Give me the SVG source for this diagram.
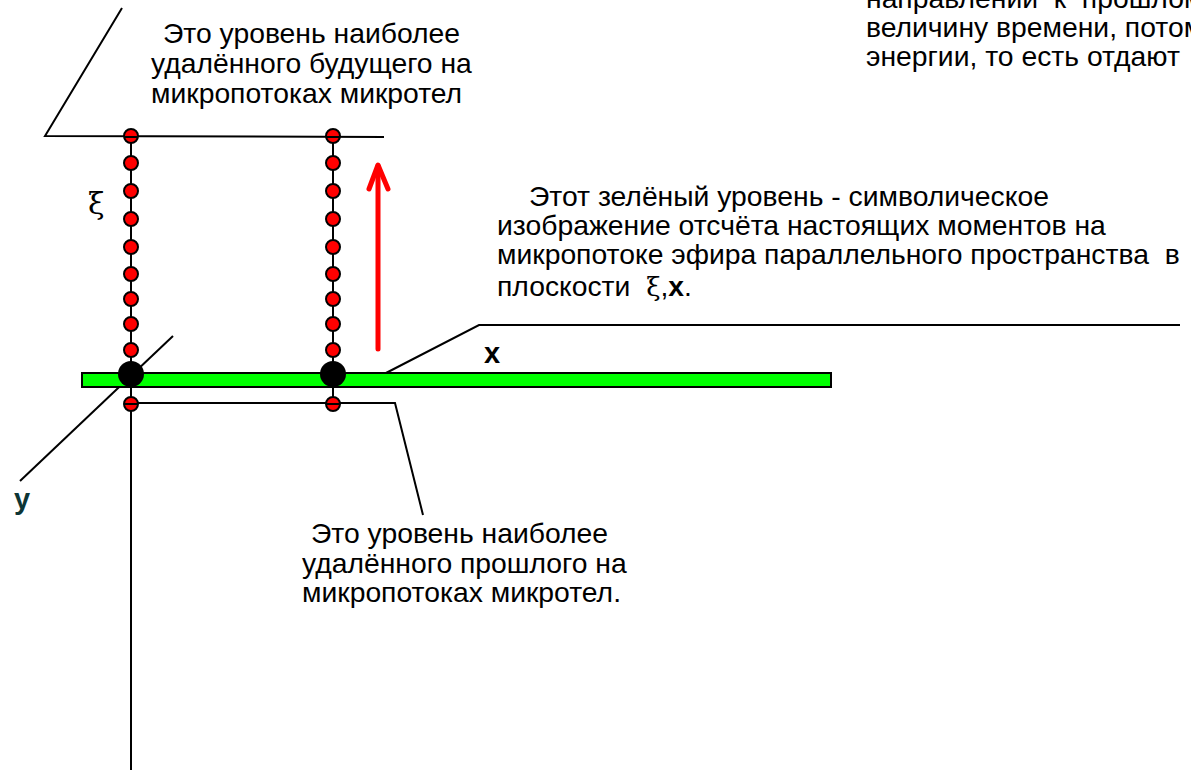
<svg xmlns="http://www.w3.org/2000/svg" width="1191" height="771" viewBox="0 0 1191 771">
  <style>
    .txt { font-family: "Liberation Sans", Arial, sans-serif; font-size: 28.3px; fill: #000; }
    .ln { stroke: #000; stroke-width: 2; fill: none; }
    .bead { fill: #ff0000; stroke: #000; stroke-width: 2; }
    .knot { fill: #000; }
    .sym { font-family: "DejaVu Serif", "Liberation Serif", serif; font-size: 30px; fill: #000; }
    .axis { font-family: "Liberation Sans", Arial, sans-serif; font-weight: bold; font-size: 29px; }
  </style>
  <defs>
    <circle id="bead" r="7" class="bead"/>
  </defs>
  <rect width="1191" height="771" fill="#fff"/>

  <!-- connectors and axes -->
  <g id="connectors">
    <!-- future level with leader line -->
    <polyline class="ln" points="122,8 45,136 384,137"/>
    <!-- past level with leader line -->
    <polyline class="ln" points="131,403 395,403 423,515"/>
    <!-- leader to the green level -->
    <polyline class="ln" points="386,373 479,325 1180,325"/>
    <!-- y axis -->
    <line class="ln" x1="20" y1="481" x2="173" y2="336"/>
    <!-- vertical axis below -->
    <line class="ln" x1="131" y1="403" x2="131" y2="770"/>
    <!-- chain strings -->
    <line class="ln" x1="131" y1="136" x2="131" y2="404"/>
    <line class="ln" x1="333" y1="136" x2="333" y2="404"/>
    <!-- time direction arrow -->
    <g stroke="#ff0000" stroke-width="5" stroke-linecap="round" stroke-linejoin="round" fill="none">
      <line x1="378" y1="349" x2="378" y2="166"/>
      <polyline points="369,189 378,165 388,189"/>
    </g>
  </g>

  <!-- green level of present moments -->
  <g id="present-level">
    <rect x="82" y="373" width="749" height="14" fill="#00ff00" stroke="#000" stroke-width="2"/>
  </g>

  <!-- left chain of micro-bodies -->
  <g id="chain-left">
    <use href="#bead" x="131" y="136"/>
    <use href="#bead" x="131" y="163"/>
    <use href="#bead" x="131" y="191"/>
    <use href="#bead" x="131" y="219"/>
    <use href="#bead" x="131" y="247"/>
    <use href="#bead" x="131" y="274"/>
    <use href="#bead" x="131" y="299"/>
    <use href="#bead" x="131" y="324"/>
    <use href="#bead" x="131" y="350"/>
    <circle class="knot" cx="131" cy="374" r="13"/>
    <use href="#bead" x="131" y="404"/>
    <line class="ln" x1="124" y1="404" x2="138" y2="404"/>
  </g>

  <!-- right chain of micro-bodies -->
  <g id="chain-right">
    <use href="#bead" x="333" y="136"/>
    <use href="#bead" x="333" y="163"/>
    <use href="#bead" x="333" y="191"/>
    <use href="#bead" x="333" y="219"/>
    <use href="#bead" x="333" y="247"/>
    <use href="#bead" x="333" y="274"/>
    <use href="#bead" x="333" y="299"/>
    <use href="#bead" x="333" y="324"/>
    <use href="#bead" x="333" y="350"/>
    <circle class="knot" cx="333" cy="374" r="13"/>
    <use href="#bead" x="333" y="404"/>
    <line class="ln" x1="326" y1="404" x2="340" y2="404"/>
  </g>

  <!-- horizontal strokes through top beads -->
  <g id="future-marks">
    <line class="ln" x1="124" y1="137" x2="138" y2="137"/>
    <line class="ln" x1="326" y1="137" x2="340" y2="137"/>
  </g>

  <!-- axis labels -->
  <g id="label-xi"><text class="sym" x="88" y="214">ξ</text></g>
  <g id="label-x"><text class="axis" x="484" y="363" fill="#000">x</text></g>
  <g id="label-y"><text class="axis" x="14" y="509" fill="#0d3535">y</text></g>

  <!-- captions -->
  <g id="note-future">
    <text class="txt" x="163" y="43">Это уровень наиболее</text>
    <text class="txt" x="151" y="73">удалённого будущего на</text>
    <text class="txt" x="151" y="103">микропотоках микротел</text>
  </g>
  <g id="note-past">
    <text class="txt" x="311" y="543">Это уровень наиболее</text>
    <text class="txt" x="302" y="573">удалённого прошлого на</text>
    <text class="txt" x="302" y="602">микропотоках микротел.</text>
  </g>
  <g id="note-present">
    <text class="txt" x="529" y="206">Этот зелёный уровень - символическое</text>
    <text class="txt" x="497" y="235">изображение отсчёта настоящих моментов на</text>
    <text class="txt" x="497" y="264" xml:space="preserve">микропотоке эфира параллельного пространства  в</text>
    <text class="txt" x="497" y="296" xml:space="preserve">плоскости  <tspan font-family="DejaVu Serif, serif" font-size="26">ξ</tspan>,<tspan font-weight="bold">x</tspan>.</text>
  </g>
  <g id="note-energy">
    <text class="txt" x="866" y="8" xml:space="preserve">направлении  к  прошлом</text>
    <text class="txt" x="866" y="37">величину времени, потом</text>
    <text class="txt" x="866" y="66">энергии, то есть отдают</text>
  </g>
</svg>
